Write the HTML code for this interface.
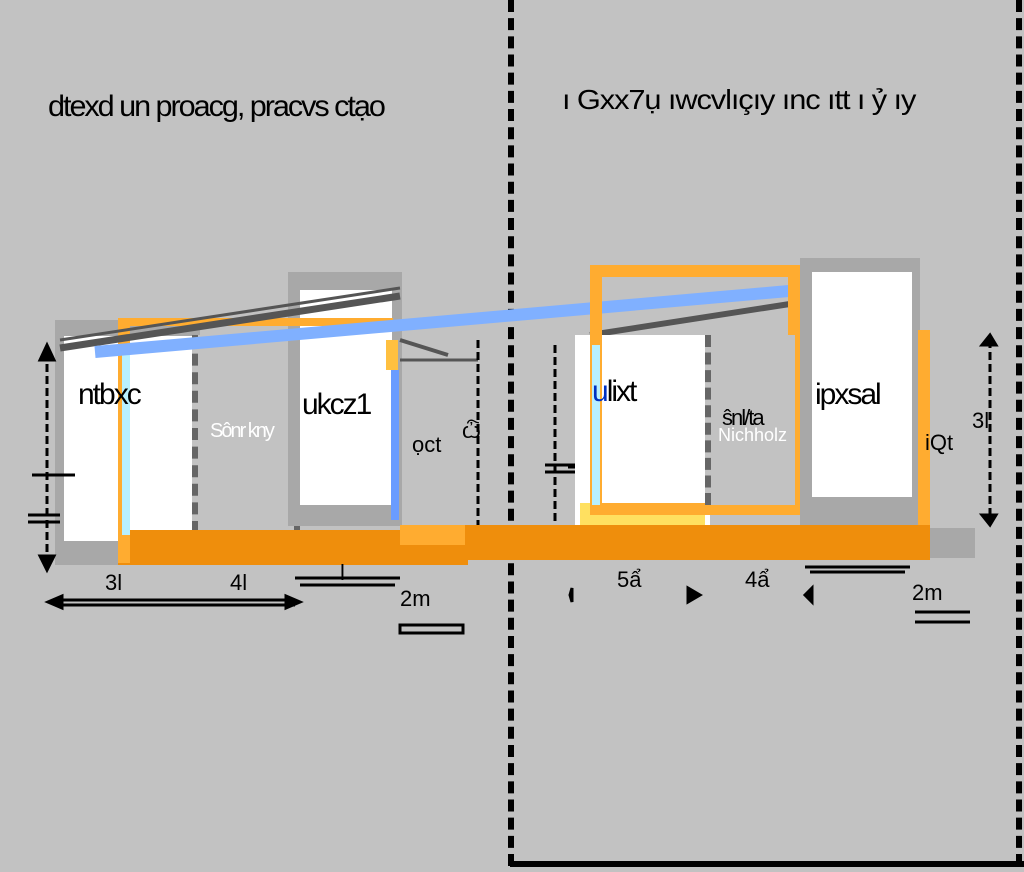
<!DOCTYPE html>
<html><head><style>
body{margin:0;width:1024px;height:872px;background:#c2c2c2;position:relative;overflow:hidden;font-family:"Liberation Sans","Noto Sans CJK SC",sans-serif}
div{position:absolute;box-sizing:border-box}
.t{color:#000;white-space:nowrap}
</style></head><body>
<div style="left:508px;top:0;width:6px;height:866px;border-left:6px dashed #000"></div>
<div style="left:1016px;top:0;width:6px;height:866px;border-left:6px dashed #000"></div>
<div style="left:510px;top:861px;width:514px;height:6px;background:#000"></div>
<div class="t" style="left:48px;top:90px;font-size:30px;letter-spacing:-2px;transform:scaleX(1.02);transform-origin:left">dtexd un proacg, pracvs ctạo</div>
<div class="t" style="left:562px;top:84px;font-size:28px;letter-spacing:-1px;transform:scaleX(1.1);transform-origin:left">ı Gxx7ụ ıwcvlıçıy ınc ıtt ı ỷ ıy</div>

<div style="left:55px;top:320px;width:145px;height:245px;background:#a8a8a8"></div>
<div style="left:64px;top:336px;width:128px;height:205px;background:#fff"></div>
<div style="left:192px;top:335px;width:108px;height:198px;border:6px dashed #666;border-top:none;border-bottom:none;background:#c2c2c2"></div>
<div style="left:288px;top:272px;width:114px;height:254px;background:#a8a8a8"></div>
<div style="left:300px;top:290px;width:92px;height:215px;background:#fff"></div>
<div style="left:118px;top:530px;width:350px;height:35px;background:#ef8e0c"></div>
<div style="left:118px;top:318px;width:275px;height:8px;background:#ffac30"></div>
<div style="left:118px;top:318px;width:12px;height:245px;background:#ffac30"></div>
<div style="left:122px;top:345px;width:8px;height:190px;background:#b8f0ff"></div>
<div style="left:386px;top:340px;width:12px;height:30px;background:#ffc040"></div>
<div style="left:391px;top:370px;width:8px;height:150px;background:#6a9cff"></div>
<div style="left:400px;top:525px;width:110px;height:20px;background:#ffac30"></div>
<svg width="1024" height="872" style="position:absolute;left:0;top:0">
<line x1="60" y1="348" x2="400" y2="296" stroke="#555" stroke-width="7"/>
<line x1="60" y1="340" x2="400" y2="288" stroke="#555" stroke-width="3"/>
<line x1="95" y1="352" x2="800" y2="290" stroke="#80b0ff" stroke-width="12"/>
<line x1="800" y1="298" x2="912" y2="278" stroke="#555" stroke-width="8"/>
<line x1="590" y1="335" x2="912" y2="285" stroke="#555" stroke-width="6"/>
<line x1="400" y1="340" x2="448" y2="355" stroke="#555" stroke-width="4"/>
<line x1="400" y1="360" x2="478" y2="360" stroke="#555" stroke-width="3"/>
<line x1="815" y1="325" x2="890" y2="350" stroke="#b8f0ff" stroke-width="5"/>
<line x1="805" y1="358" x2="920" y2="358" stroke="#90c8ff" stroke-width="4"/>
<g stroke="#000" stroke-width="3" fill="#000">
<line x1="47" y1="352" x2="47" y2="562" stroke-dasharray="8 4"/>
<polygon points="40,360 54,360 47,345"/><polygon points="40,556 54,556 47,570"/>
<line x1="478" y1="340" x2="478" y2="540" stroke-dasharray="8 4"/>
<line x1="32" y1="475" x2="75" y2="475"/><line x1="28" y1="515" x2="60" y2="515"/><line x1="28" y1="522" x2="60" y2="522"/>
<line x1="55" y1="600" x2="295" y2="600"/><line x1="55" y1="605" x2="295" y2="605"/>
<polygon points="48,602 62,596 62,608"/><polygon points="300,602 286,596 286,608"/>
<line x1="295" y1="578" x2="400" y2="578"/><line x1="300" y1="585" x2="395" y2="585"/>
<rect x="400" y="625" width="63" height="8" fill="none"/>
<line x1="568" y1="467" x2="590" y2="467"/><line x1="545" y1="465" x2="590" y2="465"/><line x1="545" y1="472" x2="580" y2="472"/>
<line x1="555" y1="345" x2="555" y2="555" stroke-dasharray="8 4"/>
<line x1="990" y1="340" x2="990" y2="520" stroke-dasharray="8 4"/>
<polygon points="982,345 996,345 990,335"/><polygon points="982,515 996,515 990,525"/>
<line x1="805" y1="567" x2="910" y2="567"/><line x1="810" y1="572" x2="905" y2="572"/>
<line x1="915" y1="612" x2="970" y2="612"/><line x1="915" y1="622" x2="970" y2="622"/>
<polygon points="570,595 572,588 572,602"/><polygon points="700,595 688,588 688,602"/><polygon points="805,595 812,588 812,602"/>
</g>
</svg>
<div class="t" style="left:78px;top:378px;font-size:30px;letter-spacing:-2px">ntbxc</div>
<div class="t" style="left:302px;top:388px;font-size:30px;letter-spacing:-2px">ukcz1</div>
<div class="t" style="left:210px;top:420px;font-size:20px;color:#fff;letter-spacing:-2px">Sônr kny</div>
<div class="t" style="left:412px;top:432px;font-size:22px">ọct</div>
<div class="t" style="left:462px;top:418px;font-size:22px">ѽ</div>
<div class="t" style="left:105px;top:570px;font-size:22px">3l</div>
<div class="t" style="left:230px;top:570px;font-size:22px">4l</div>
<div class="t" style="left:340px;top:560px;font-size:22px">l</div>
<div class="t" style="left:400px;top:586px;font-size:22px">2m</div>

<div style="left:575px;top:335px;width:135px;height:195px;background:#fff"></div>
<div style="left:580px;top:503px;width:125px;height:25px;background:#ffe060"></div>
<div style="left:590px;top:265px;width:210px;height:250px;border:12px solid #ffac30"></div>
<div style="left:705px;top:335px;width:90px;height:170px;background:#c2c2c2;border-left:6px dashed #666"></div>
<div style="left:592px;top:345px;width:8px;height:160px;background:#b8f0ff"></div>
<div style="left:800px;top:258px;width:120px;height:272px;background:#a8a8a8"></div>
<div style="left:812px;top:272px;width:100px;height:225px;background:#fff"></div>
<div style="left:918px;top:330px;width:12px;height:230px;background:#ffac30"></div>
<div style="left:465px;top:525px;width:465px;height:35px;background:#ef8e0c"></div>
<div style="left:930px;top:528px;width:45px;height:30px;background:#a8a8a8"></div>
<div class="t" style="left:592px;top:375px;font-size:30px;letter-spacing:-2px"><span style="color:#0030c0">u</span>lixt</div>
<div class="t" style="left:815px;top:378px;font-size:30px;letter-spacing:-2px">ipxsal</div>
<div class="t" style="left:722px;top:405px;font-size:22px;letter-spacing:-2px">ŝnl/ta</div>
<div class="t" style="left:718px;top:425px;font-size:18px;color:#fff">Nichholz</div>
<div class="t" style="left:925px;top:430px;font-size:22px">iQt</div>
<div class="t" style="left:972px;top:408px;font-size:22px">3l</div>
<div class="t" style="left:617px;top:567px;font-size:22px">5ẩ</div>
<div class="t" style="left:745px;top:567px;font-size:22px">4ẩ</div>
<div class="t" style="left:912px;top:580px;font-size:22px">2m</div>
</body></html>
